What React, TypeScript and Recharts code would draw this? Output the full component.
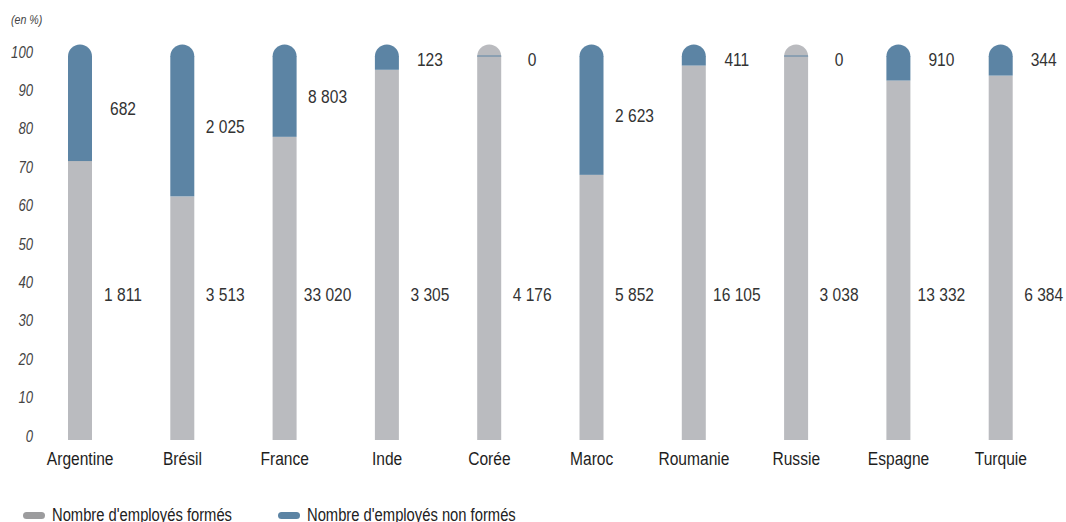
import { Bar, BarChart, LabelList, Legend, XAxis, YAxis } from "recharts";

const countries = ["Argentine", "Brésil", "France", "Inde", "Corée", "Maroc", "Roumanie", "Russie", "Espagne", "Turquie"];
const formes = [1811, 3513, 33020, 3305, 4176, 5852, 16105, 3038, 13332, 6384];
const nonFormes = [682, 2025, 8803, 123, 0, 2623, 411, 0, 910, 344];
const yTicks = [0, 10, 20, 30, 40, 50, 60, 70, 80, 90, 100];

const GRAY = "#babbbf";
const BLUE = "#5c84a4";
const LEGEND_GRAY = "#9c9c9e";
const FONT = "'Liberation Sans', Arial, sans-serif";
// no narrow font installed, so squeeze the regular one
const NARROW = 0.82;
// level (in %) where the "formés" counts sit
const FORMES_LABEL_LEVEL = 37.8;
const LABEL_OFFSET = 43;

const data = countries.map((country, i) => {
  const total = formes[i] + nonFormes[i];
  return {
    country,
    formes: formes[i],
    nonFormes: nonFormes[i],
    pctFormes: (formes[i] / total) * 100,
    pctNonFormes: (nonFormes[i] / total) * 100
  };
});

const formatCount = (n: number) => String(n).replace(/\B(?=(\d{3})+(?!\d))/g, " ");

function NarrowText({
  x,
  y,
  anchor = "middle",
  size,
  italic = false,
  fill = "#333",
  children
}: {
  x: number;
  y: number;
  anchor?: "start" | "middle" | "end";
  size: number;
  italic?: boolean;
  fill?: string;
  children: any;
}) {
  return (
    <text
      transform={`translate(${x},${y}) scale(${NARROW},1)`}
      textAnchor={anchor}
      fontSize={size}
      fontStyle={italic ? "italic" : "normal"}
      fill={fill}
      fontFamily={FONT}
    >
      {children}
    </text>
  );
}

function CappedBar(props: any) {
  const { x, y, width, height, payload } = props;
  const r = width / 2;
  const hasValue = payload.nonFormes > 0;
  return (
    <g>
      <path d={`M${x},${y + 0.5} A${r},${r} 0 0 1 ${x + width},${y + 0.5} Z`} fill={hasValue ? BLUE : GRAY} />
      {height > 0 ? <rect x={x} y={y} width={width} height={height} fill={BLUE} /> : null}
      {!hasValue ? <line x1={x} x2={x + width} y1={y} y2={y} stroke={BLUE} strokeWidth={1} /> : null}
    </g>
  );
}

function FormesLabel(props: any) {
  const { x, y, width, height, value, index } = props;
  const pct = data[index].pctFormes;
  const bottom = y + height;
  const ly = bottom - (FORMES_LABEL_LEVEL * height) / pct;
  return (
    <NarrowText x={x + width / 2 + LABEL_OFFSET} y={ly + 6.5} size={19}>
      {formatCount(Number(value))}
    </NarrowText>
  );
}

function NonFormesLabel(props: any) {
  const { x, y, width, height, value } = props;
  const ly = height < 30 ? y + 3 : y + height / 2;
  return (
    <NarrowText x={x + width / 2 + LABEL_OFFSET} y={ly + 6.5} size={19}>
      {formatCount(Number(value))}
    </NarrowText>
  );
}

function YTick(props: any) {
  const { y, payload } = props;
  return (
    <NarrowText x={33} y={y + 1.5} anchor="end" size={16} italic fill="#444">
      {payload.value}
    </NarrowText>
  );
}

function XTick(props: any) {
  const { x, y, payload } = props;
  return (
    <NarrowText x={x} y={y + 17} size={19} fill="#1e1e1e">
      {payload.value}
    </NarrowText>
  );
}

function LegendContent() {
  const items = [
    { label: "Nombre d'employés formés", color: LEGEND_GRAY, left: 23 },
    { label: "Nombre d'employés non formés", color: BLUE, left: 278 }
  ];
  return (
    <div style={{ position: "relative", height: 20, fontFamily: FONT, fontSize: 18, color: "#222", lineHeight: "20px" }}>
      {items.map((item) => (
        <div key={item.label} style={{ position: "absolute", left: item.left, top: 0, display: "flex", alignItems: "center", whiteSpace: "nowrap" }}>
          <span style={{ display: "inline-block", width: 22, height: 7, borderRadius: 4, background: item.color, marginRight: 7 }} />
          <span style={{ display: "inline-block", transform: `scaleX(${NARROW})`, transformOrigin: "left center" }}>{item.label}</span>
        </div>
      ))}
    </div>
  );
}

export default function App() {
  return (
    <div style={{ position: "absolute", left: 0, top: 0, width: 1066, height: 522, background: "#fff", overflow: "hidden" }}>
      <div
        style={{
          position: "absolute",
          left: 11,
          top: 12,
          fontFamily: FONT,
          fontSize: 13,
          fontStyle: "italic",
          color: "#444",
          transform: `scaleX(${NARROW})`,
          transformOrigin: "left top"
        }}
      >
        (en %)
      </div>
      <BarChart width={1066} height={522} data={data} margin={{ top: 56, right: 14, bottom: 32, left: 0 }} barSize={24}>
        <XAxis dataKey="country" axisLine={false} tickLine={false} height={30} interval={0} tick={<XTick />} />
        <YAxis
          domain={[0, 100]}
          ticks={yTicks}
          axisLine={false}
          tickLine={false}
          width={29}
          interval={0}
          tick={<YTick />}
        />
        <Legend
          verticalAlign="bottom"
          content={() => <LegendContent />}
          wrapperStyle={{ top: 505, bottom: "auto", left: 0, width: 1066, height: 20 }}
        />
        <Bar dataKey="pctFormes" stackId="a" fill={GRAY} isAnimationActive={false}>
          <LabelList dataKey="formes" content={<FormesLabel />} />
        </Bar>
        <Bar dataKey="pctNonFormes" stackId="a" fill={BLUE} shape={<CappedBar />} isAnimationActive={false}>
          <LabelList dataKey="nonFormes" content={<NonFormesLabel />} />
        </Bar>
      </BarChart>
    </div>
  );
}
